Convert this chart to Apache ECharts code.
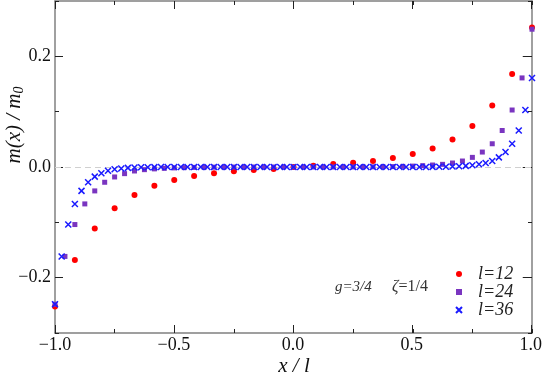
<!DOCTYPE html>
<html><head><meta charset="utf-8">
<script src="https://cdn.jsdelivr.net/npm/echarts@6/dist/echarts.min.js"></script>
<style>html,body{margin:0;padding:0;background:#fff}#c{width:545px;height:376px}</style>
</head><body><div id="c"></div>
<script>
// x/l positions of each lattice
const x12 = [-1,-0.9167,-0.8333,-0.75,-0.6667,-0.5833,-0.5,-0.4167,-0.3333,-0.25,-0.1667,-0.0833,0,
  0.0833,0.1667,0.25,0.3333,0.4167,0.5,0.5833,0.6667,0.75,0.8333,0.9167,1];
const m12 = [-0.252,-0.168,-0.111,-0.0745,-0.0505,-0.034,-0.0235,-0.0162,-0.0112,-0.0078,-0.0054,-0.0034,0,
  0.0024,0.0052,0.0078,0.0108,0.0162,0.0234,0.0336,0.0498,0.0739,0.111,0.168,0.252];

const x24 = [-1,-0.9583,-0.9167,-0.875,-0.8333,-0.7917,-0.75,-0.7083,-0.6667,-0.625,-0.5833,-0.5417,
  -0.5,-0.4583,-0.4167,-0.375,-0.3333,-0.2917,-0.25,-0.2083,-0.1667,-0.125,-0.0833,-0.0417,0,
  0.0417,0.0833,0.125,0.1667,0.2083,0.25,0.2917,0.3333,0.375,0.4167,0.4583,0.5,
  0.5417,0.5833,0.625,0.6667,0.7083,0.75,0.7917,0.8333,0.875,0.9167,0.9583,1];
const m24 = [-0.248,-0.1616,-0.104,-0.0667,-0.0432,-0.0276,-0.018,-0.012,-0.0072,-0.0048,-0.0034,-0.0024,
  -0.0016,-0.0011,-0.0007,-0.0005,-0.0003,-0.0002,-0.0001,-0.0001,0,0,0,0,0,
  0,0,0,0,0.0001,0.0001,0.0002,0.0003,0.0005,0.0007,0.0011,0.0016,
  0.0024,0.0036,0.0048,0.0072,0.0108,0.0174,0.027,0.042,0.066,0.103,0.161,0.249];

const x36 = [-1,-0.9722,-0.9444,-0.9167,-0.8889,-0.8611,-0.8333,-0.8056,-0.7778,-0.75,-0.7222,-0.6944,
  -0.6667,-0.6389,-0.6111,-0.5833,-0.5556,-0.5278,-0.5,-0.4722,-0.4444,-0.4167,-0.3889,-0.3611,
  -0.3333,-0.3056,-0.2778,-0.25,-0.2222,-0.1944,-0.1667,-0.1389,-0.1111,-0.0833,-0.0556,-0.0278,0,
  0.0278,0.0556,0.0833,0.1111,0.1389,0.1667,0.1944,0.2222,0.25,0.2778,0.3056,0.3333,
  0.3611,0.3889,0.4167,0.4444,0.4722,0.5,0.5278,0.5556,0.5833,0.6111,0.6389,0.6667,
  0.6944,0.7222,0.75,0.7778,0.8056,0.8333,0.8611,0.8889,0.9167,0.9444,0.9722,1];
const m36 = [-0.248,-0.1616,-0.104,-0.0667,-0.0432,-0.0276,-0.0174,-0.0114,-0.0068,-0.0042,-0.0026,-0.0016,
  -0.001,-0.0006,-0.0004,-0.0002,-0.0001,0,0,0,0,0,0,0,
  0,0,0,0,0,0,0,0,0,0,0,0,0,
  0,0,0,0,0,0,0,0,0,0,0,0,
  0,0,0,0,0,0,0,0.0001,0.0002,0.0003,0.0005,0.0008,
  0.0012,0.002,0.003,0.0048,0.0072,0.0108,0.0174,0.027,0.042,0.066,0.103,0.161,0.247];

const seriesNames = ['l=12','l=24','l=36'];
const yMajorTicks = [-0.2,0,0.2];

const pair = (xs, ys) => xs.map((x, i) => [x, ys[i]]);
const fmt = v => (v < 0 ? '\u2212' : '') + Math.abs(v).toFixed(1);
const serif = 'Liberation Serif';
const gridRect = {left:55, top:1, width:477, height:332};
const minorTick = {show:true, inside:true, length:4, lineStyle:{color:'#222', width:1}};
const majorTick = {show:true, inside:true, length:8, lineStyle:{color:'#222', width:1}};
const axLine = {show:true, onZero:false, lineStyle:{color:'#808080', width:1.5}};
const noLine = {show:false, onZero:false};

const chart = echarts.init(document.getElementById('c'), null, {renderer:'canvas'});
chart.setOption({
  animation:false,
  backgroundColor:'#fff',
  grid:[Object.assign({}, gridRect), Object.assign({}, gridRect)],
  xAxis:[
    {gridIndex:0, position:'bottom', type:'value', min:-1, max:1, interval:0.25, axisLine:axLine, axisTick:minorTick, axisLabel:{show:false}, splitLine:{show:false}},
    {gridIndex:0, position:'top', type:'value', min:-1, max:1, interval:0.25, axisLine:axLine, axisTick:minorTick, axisLabel:{show:false}, splitLine:{show:false}},
    {gridIndex:1, position:'bottom', type:'value', min:-1, max:1, interval:0.5, axisLine:noLine, axisTick:majorTick,
      axisLabel:{show:true, formatter:fmt, fontFamily:serif, fontSize:18, color:'#111', margin:3}, splitLine:{show:false}},
    {gridIndex:1, position:'top', type:'value', min:-1, max:1, interval:0.5, axisLine:noLine, axisTick:majorTick, axisLabel:{show:false}, splitLine:{show:false}}
  ],
  yAxis:[
    {gridIndex:0, position:'left', type:'value', min:-0.3, max:0.3, interval:0.1, axisLine:axLine, axisTick:minorTick, axisLabel:{show:false}, splitLine:{show:false}},
    {gridIndex:0, position:'right', type:'value', min:-0.3, max:0.3, interval:0.1, axisLine:axLine, axisTick:minorTick, axisLabel:{show:false}, splitLine:{show:false}},
    {gridIndex:1, position:'left', type:'value', min:-0.3, max:0.3, interval:0.1, axisLine:noLine,
      axisTick:Object.assign({customValues:yMajorTicks}, majorTick),
      axisLabel:{show:true, customValues:yMajorTicks, formatter:fmt, fontFamily:serif, fontSize:18, color:'#111', margin:4}, splitLine:{show:false}},
    {gridIndex:1, position:'right', type:'value', min:-0.3, max:0.3, interval:0.1, axisLine:noLine,
      axisTick:Object.assign({customValues:yMajorTicks}, majorTick), axisLabel:{show:false}, splitLine:{show:false}}
  ],
  legend:{
    orient:'vertical', left:450, top:260, itemWidth:6, itemHeight:6, itemGap:0,
    data:seriesNames,
    textStyle:{fontFamily:serif, fontStyle:'italic', fontSize:18, color:'#222', lineHeight:16, padding:[0,0,0,11]}
  },
  series:[
    {name:seriesNames[0], type:'scatter', xAxisIndex:0, yAxisIndex:0, symbol:'circle', symbolSize:6, z:3,
      itemStyle:{color:'#ff0000', opacity:1}, data:pair(x12, m12),
      markLine:{silent:true, symbol:'none', label:{show:false}, z:1, animation:false,
        lineStyle:{color:'#d0d0d0', type:[6,4], width:1}, data:[{yAxis:0}]}},
    {name:seriesNames[1], type:'scatter', xAxisIndex:0, yAxisIndex:0, symbol:'rect', symbolSize:5, z:3,
      itemStyle:{color:'#7a35c0', opacity:1}, data:pair(x24, m24)},
    {name:seriesNames[2], type:'scatter', xAxisIndex:0, yAxisIndex:0, symbol:'path://M0,0L10,10M10,0L0,10', symbolSize:6, z:3,
      itemStyle:{color:'rgba(0,0,0,0)', borderColor:'#1a1aff', borderWidth:1.5, opacity:1}, data:pair(x36, m36)}
  ],
  graphic:[
    {type:'text', x:14, y:125, rotation:Math.PI/2, silent:true,
      style:{text:'{a|m(x) / m}{b|0}', textAlign:'center', textVerticalAlign:'middle',
        rich:{a:{fontFamily:serif, fontStyle:'italic', fontSize:21, fill:'#111', lineHeight:24, verticalAlign:'middle'},
              b:{fontFamily:serif, fontStyle:'italic', fontSize:14, fill:'#111', lineHeight:24, padding:[10,0,0,0], verticalAlign:'middle'}}}},
    {type:'text', x:294, y:366, silent:true,
      style:{text:'x / l', fontFamily:serif, fontStyle:'italic', fontSize:21, fill:'#111', textAlign:'center', textVerticalAlign:'middle'}},
    {type:'text', x:335, y:287, silent:true,
      style:{text:'g=3/4', fontFamily:serif, fontStyle:'italic', fontSize:15, fill:'#333', textAlign:'left', textVerticalAlign:'middle'}},
    {type:'text', x:392, y:287, silent:true,
      style:{text:'{i|\u03b6}{n|=1/4}', textAlign:'left', textVerticalAlign:'middle',
        rich:{i:{fontFamily:serif, fontStyle:'italic', fontSize:16, fill:'#333'}, n:{fontFamily:serif, fontSize:16, fill:'#333'}}}}
  ]
});
</script></body></html>
